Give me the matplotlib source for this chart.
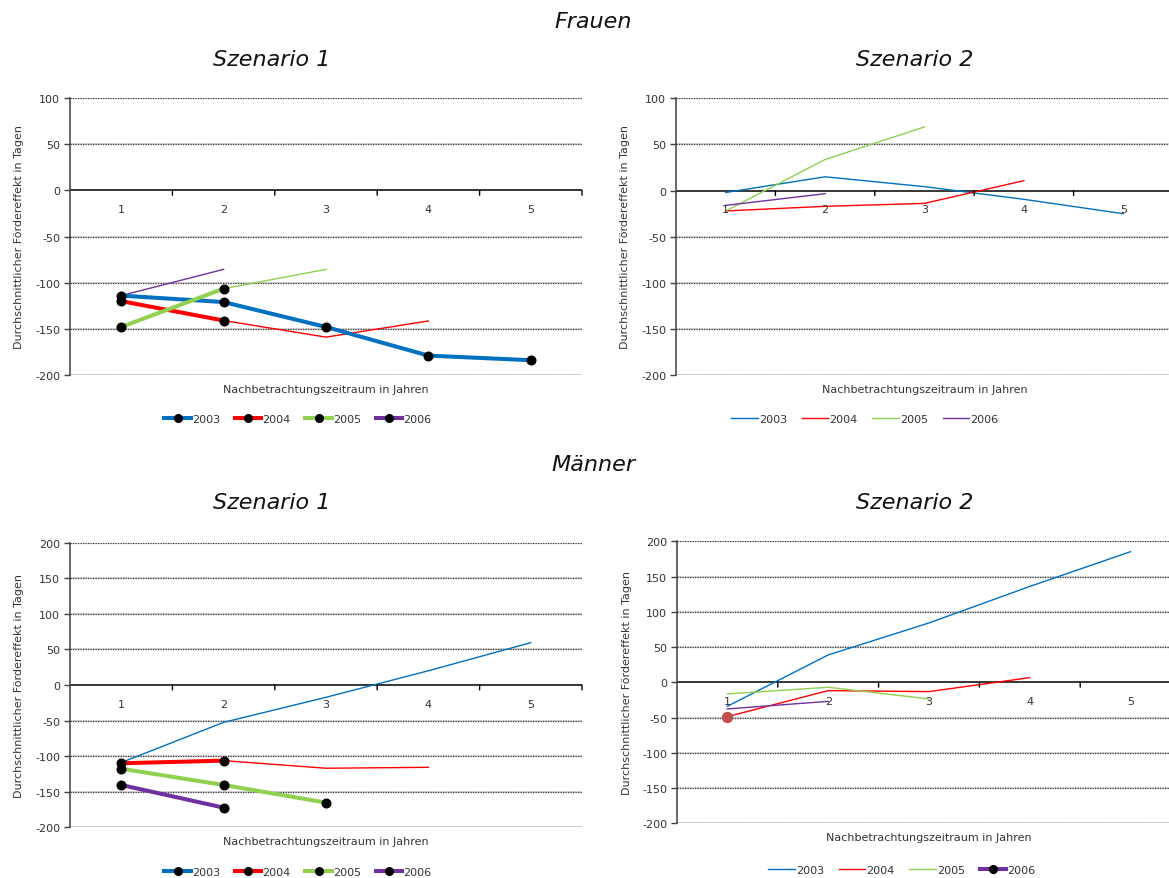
import matplotlib
matplotlib.use("Agg")
import matplotlib.pyplot as plt
from matplotlib.lines import Line2D

plt.rcParams['font.family'] = ['DejaVu Sans']

W, H = 1169, 879

years = ["2003", "2004", "2005", "2006"]
periods = [1, 2, 3, 4, 5]
colors = ["#0070C0", "#FF0000", "#92D050", "#7030A0"]

# Frauen, Szenario 1
fs1_2003 = [-114, -121, -148, -179, -184]
fs1_2004 = [-120, -141, -159, -141.5]
fs1_2005 = [-148, -106.5, -85.6]
fs1_2006 = [-114, -85.6]
fs1_sig = [5, 2, 2, 0]          # leading points drawn bold with markers

# Frauen, Szenario 2
fs2_2003 = [-2, 15, 4.3, -9.4, -25]
fs2_2004 = [-22, -17, -13.8, 10.8]
fs2_2005 = [-22, 33.7, 69]
fs2_2006 = [-16, -3.3]
fs2_sig = [0, 0, 0, 0]

# Männer, Szenario 1
ms1_2003 = [-109, -52.5, -17.3, 20, 59.5]
ms1_2004 = [-110, -106.3, -117, -115.7]
ms1_2005 = [-117.6, -140.5, -165.3]
ms1_2006 = [-140.5, -172.4]
ms1_sig = [0, 2, 3, 2]

# Männer, Szenario 2
ms2_2003 = [-34, 38.8, 84.2, 136, 185.3]
ms2_2004 = [-48.7, -11.8, -13.2, 6.6]
ms2_2005 = [-16.5, -7, -23.6]
ms2_2006 = [-37.8, -27]
ms2_sig = [0, 0, 0, 0]
ms2_point_marked = [False, True, False, False]   # single marked first value

yticks_f = [100, 50, 0, -50, -100, -150, -200]
yticks_m = [200, 150, 100, 50, 0, -50, -100, -150, -200]

ylabel = "Durchschnittlicher Fördereffekt in Tagen"
xlabel = "Nachbetrachtungszeitraum in Jahren"
text_col = "#333333"

fig = plt.figure(figsize=(W / 100, H / 100), dpi=100)


def fx(px):
    return px / W


def fy(py):
    return 1 - py / H


def panel(rect, series, sig, ylim, yticks, marked=None):
    ax = fig.add_axes(rect)
    ax.set_xlim(0.5, 5.5)
    ax.set_ylim(*ylim)
    for s in ["top", "right", "bottom"]:
        ax.spines[s].set_visible(False)
    ax.spines["left"].set_color("#404040")
    ax.spines["left"].set_linewidth(1.1)
    ax.set_xticks([])
    ax.set_yticks(yticks)
    ax.set_yticklabels([str(t) for t in yticks])
    ax.tick_params(axis="y", length=4, width=1, color="#404040",
                   labelsize=8, labelcolor=text_col, pad=3)
    # dotted gridlines
    for t in yticks:
        if t == 0:
            continue
        ax.axhline(t, color="#d0d0d0", lw=1.2, zorder=0.5)
        ax.axhline(t, color="#3a3a3a", lw=0.9, ls=(0, (1, 1)), zorder=0.6)
    # category axis along zero with boundary ticks
    ax.axhline(0, color="#000000", lw=1.1, zorder=1)
    for b in [1.5, 2.5, 3.5, 4.5, 5.5]:
        ax.annotate("", xy=(b, 0), xycoords="data", xytext=(0, -3.5),
                    textcoords="offset points",
                    arrowprops=dict(arrowstyle="-", color="#000000", lw=1.0,
                                    shrinkA=0, shrinkB=0))
    for p in periods:
        ax.annotate(str(p), xy=(p, 0), xytext=(0, -13.5), textcoords="offset points",
                    ha="center", va="center", fontsize=8, color=text_col)
    # series: thin full line, bold segment with markers for leading points
    for i, vals in enumerate(series):
        xs = periods[:len(vals)]
        ax.plot(xs, vals, color=colors[i], lw=1.0, zorder=2)
    for i, vals in enumerate(series):
        n = sig[i]
        if n > 0:
            ax.plot(periods[:n], vals[:n], color=colors[i], lw=2.9, zorder=3,
                    marker="o", ms=6.2, mfc="black", mec="black")
        if marked is not None and marked[i]:
            ax.plot([periods[0]], [vals[0]], ls="none", marker="o", ms=7.2,
                    mfc="#C0504D", mec="#C0504D", zorder=4)
    ax.text(0.5, -9 / (rect[3] * H), xlabel, transform=ax.transAxes,
            ha="center", va="top", fontsize=8, color=text_col)
    return ax


def legend(center_px, styles):
    handles = []
    for i, st in enumerate(styles):
        if st == "bold":
            h = Line2D([], [], color=colors[i], lw=2.9, marker="o", ms=5.5,
                       mfc="black", mec="black")
        else:
            h = Line2D([], [], color=colors[i], lw=1.0)
        handles.append(h)
    fig.legend(handles, years, loc="center",
               bbox_to_anchor=(fx(center_px[0]), fy(center_px[1])),
               ncol=4, frameon=False, fontsize=8, handlelength=2.4, handletextpad=0.1,
               columnspacing=1.3, labelcolor=text_col)


panel([fx(70), fy(376), fx(512), 277 / H],
      [fs1_2003, fs1_2004, fs1_2005, fs1_2006], fs1_sig, (-200, 100), yticks_f)
panel([fx(676), fy(376.3), fx(497), 277 / H],
      [fs2_2003, fs2_2004, fs2_2005, fs2_2006], fs2_sig, (-200, 100), yticks_f)
panel([fx(70), fy(828.3), fx(512), 284.6 / H],
      [ms1_2003, ms1_2004, ms1_2005, ms1_2006], ms1_sig, (-200, 200), yticks_m)
panel([fx(677), fy(824.3), fx(504), 282 / H],
      [ms2_2003, ms2_2004, ms2_2005, ms2_2006], ms2_sig, (-200, 200), yticks_m,
      marked=ms2_point_marked)

# y-axis labels
for xp, yp in [(19, 237), (625, 237), (19, 686), (627, 683)]:
    fig.text(fx(xp), fy(yp), ylabel, rotation=90, ha="center", va="center",
             fontsize=8, color=text_col)

legend((298, 420), ["bold"] * 4)
legend((865, 420), ["thin"] * 4)
legend((298, 873), ["bold"] * 4)
legend((902, 871), ["thin", "thin", "thin", "bold"])

# titles
title_kw = dict(ha="center", va="center", fontsize=16, style="italic", color="#111111")
fig.text(fx(593), fy(22), "Frauen", **title_kw)
fig.text(fx(272), fy(60), "Szenario 1", **title_kw)
fig.text(fx(915), fy(60), "Szenario 2", **title_kw)
fig.text(fx(593), fy(465), "Männer", **title_kw)
fig.text(fx(272), fy(503), "Szenario 1", **title_kw)
fig.text(fx(915), fy(503), "Szenario 2", **title_kw)

fig.savefig("out.png", dpi=100)
